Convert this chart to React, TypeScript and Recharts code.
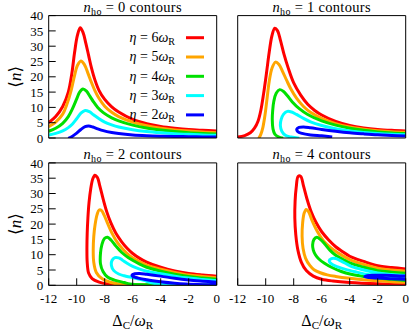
import React from 'react';
import { LineChart, Line, XAxis, YAxis, Legend } from 'recharts';

type Pt = [number, number];

const X_TICKS = [-12, -10, -8, -6, -4, -2, 0];
const Y_TICKS = [0, 5, 10, 15, 20, 25, 30, 35, 40];
const ETA_LABELS = [6, 5, 4, 3, 2];
const NHO_LABELS = [0, 1, 2, 4];
const SERIES_COLORS = ['#ff0000', '#ffa500', '#00e000', '#00ffff', '#0000ff'];

// ---- n_ho = 0 ----
const NHO0_ETA6: Pt[] = [[-12, 5.0], [-11.5, 7.0], [-11, 10.3], [-10.6, 15], [-10.35, 21], [-10.15, 28], [-9.95, 33.5], [-9.75, 36], [-9.55, 34.5], [-9.35, 31], [-9.15, 27], [-8.95, 23], [-8.7, 19], [-8.4, 15.5], [-8.0, 12.6], [-7.5, 10.2], [-7, 8.5], [-6, 6.1], [-5, 4.7], [-4, 3.8], [-3, 3.2], [-2, 2.75], [-1, 2.5], [0, 2.3]];
const NHO0_ETA5: Pt[] = [[-12, 3.7], [-11.5, 5.2], [-11, 7.8], [-10.7, 11], [-10.4, 15.5], [-10.15, 20.5], [-9.95, 23.7], [-9.7, 25.2], [-9.45, 24], [-9.2, 21.2], [-8.95, 18.2], [-8.7, 15.5], [-8.4, 12.9], [-8.0, 10.4], [-7.5, 8.4], [-7, 7.0], [-6, 5.2], [-5, 4.0], [-4, 3.2], [-3, 2.65], [-2, 2.25], [-1, 1.95], [0, 1.75]];
const NHO0_ETA4: Pt[] = [[-12, 2.2], [-11.5, 3.2], [-11, 4.8], [-10.6, 7], [-10.3, 9.6], [-10.0, 12.8], [-9.8, 14.9], [-9.55, 16], [-9.3, 15.3], [-9.05, 13.6], [-8.8, 11.8], [-8.5, 10], [-8.1, 8.3], [-7.5, 6.6], [-7, 5.6], [-6, 4.2], [-5, 3.25], [-4, 2.6], [-3, 2.1], [-2, 1.75], [-1, 1.5], [0, 1.3]];
const NHO0_ETA3: Pt[] = [[-12, 1.0], [-11.5, 1.5], [-11, 2.3], [-10.6, 3.4], [-10.3, 4.6], [-10.0, 6.3], [-9.7, 8.1], [-9.4, 9], [-9.1, 8.6], [-8.8, 7.6], [-8.4, 6.3], [-8.0, 5.2], [-7.5, 4.3], [-7, 3.6], [-6, 2.7], [-5, 2.1], [-4, 1.7], [-3, 1.4], [-2, 1.2], [-1, 1.0], [0, 0.9]];
const NHO0_ETA2: Pt[] = [[-10.6, -0.1], [-10.3, 0.6], [-10.0, 1.6], [-9.7, 2.8], [-9.4, 3.7], [-9.15, 3.9], [-8.85, 3.6], [-8.5, 3.0], [-8.1, 2.4], [-7.5, 1.8], [-7, 1.45], [-6, 1.0], [-5, 0.75], [-4, 0.6], [-3, 0.5], [-2, 0.42], [-1, 0.36], [0, 0.3]];

// ---- n_ho = 1 ----
const NHO1_ETA6: Pt[] = [[-12, 0.3], [-11.5, 0.8], [-11.1, 1.7], [-10.8, 3.2], [-10.55, 5.5], [-10.35, 9], [-10.15, 14.5], [-9.95, 21], [-9.75, 28], [-9.55, 33.5], [-9.35, 35.9], [-9.15, 35], [-8.95, 32], [-8.7, 27.5], [-8.4, 23], [-8.0, 18], [-7.5, 14], [-7.0, 11], [-6.5, 9], [-6, 7.5], [-5, 5.4], [-4, 4.1], [-3, 3.3], [-2, 2.8], [-1, 2.5], [0, 2.3]];
const NHO1_ETA5: Pt[] = [[-10.5, -0.1], [-10.35, 1.2], [-10.2, 3.5], [-10.05, 7.5], [-9.9, 13], [-9.75, 18.5], [-9.55, 22.8], [-9.3, 24.8], [-9.05, 24], [-8.8, 21.8], [-8.5, 18.8], [-8.2, 16], [-7.8, 13], [-7.3, 10.3], [-6.8, 8.4], [-6, 6.4], [-5, 4.7], [-4, 3.6], [-3, 2.9], [-2, 2.4], [-1, 2.05], [0, 1.85]];
const NHO1_ETA4: Pt[] = [[-8.75, -0.1], [-9.1, 0.4], [-9.35, 1.3], [-9.48, 3], [-9.53, 6], [-9.5, 9], [-9.42, 12], [-9.25, 14.6], [-9.0, 15.8], [-8.75, 15.3], [-8.45, 13.8], [-8.1, 11.8], [-7.6, 9.6], [-7, 7.7], [-6, 5.6], [-5, 4.2], [-4, 3.2], [-3, 2.5], [-2, 2.0], [-1, 1.65], [0, 1.45]];
const NHO1_ETA3: Pt[] = [[-7.6, -0.1], [-8.2, 0.3], [-8.6, 0.9], [-8.85, 2.2], [-8.95, 4], [-8.9, 6], [-8.72, 7.8], [-8.45, 8.7], [-8.15, 8.5], [-7.8, 7.7], [-7.3, 6.4], [-6.8, 5.3], [-6, 4.1], [-5, 3.0], [-4, 2.3], [-3, 1.8], [-2, 1.45], [-1, 1.2], [0, 1.05]];
const NHO1_ETA2: Pt[] = [[-5.25, 0.35], [-6.0, 0.7], [-6.8, 1.0], [-7.4, 1.5], [-7.72, 2.15], [-7.78, 2.9], [-7.62, 3.45], [-7.3, 3.6], [-6.8, 3.35], [-6, 2.8], [-5, 2.2], [-4, 1.7], [-3, 1.35], [-2, 1.05], [-1, 0.85], [0, 0.65]];

// ---- n_ho = 2 ----
const NHO2_ETA6: Pt[] = [[0, 0.05], [-3, 0.08], [-6, 0.12], [-7.2, 0.25], [-7.8, 0.45], [-8.4, 1.05], [-8.9, 2.2], [-9.15, 4], [-9.25, 7.5], [-9.27, 12], [-9.25, 17], [-9.2, 22], [-9.12, 27], [-9.0, 31.5], [-8.85, 34.8], [-8.7, 36], [-8.52, 35.2], [-8.35, 32.5], [-8.1, 28], [-7.85, 24], [-7.55, 20.3], [-7.2, 17], [-6.8, 14.3], [-6.4, 12.1], [-6, 10.4], [-5.5, 8.8], [-5, 7.6], [-4, 5.9], [-3, 4.7], [-2, 3.9], [-1, 3.4], [0, 3.0]];
const NHO2_ETA5: Pt[] = [[0, 0.05], [-4, 0.1], [-6, 0.2], [-6.9, 0.35], [-7.6, 1.0], [-8.2, 2.2], [-8.6, 4.2], [-8.78, 7.5], [-8.82, 11.5], [-8.78, 16], [-8.68, 20], [-8.55, 23], [-8.4, 24.6], [-8.22, 24.4], [-8.05, 23], [-7.8, 20.3], [-7.5, 17.2], [-7.1, 14.0], [-6.7, 11.8], [-6.2, 9.6], [-5.6, 7.9], [-5, 6.6], [-4, 5.3], [-3, 4.2], [-2, 3.35], [-1, 2.9], [0, 2.5]];
const NHO2_ETA4: Pt[] = [[0, 0.08], [-3, 0.12], [-5, 0.18], [-6.2, 0.45], [-6.6, 0.9], [-7.3, 1.7], [-7.8, 2.7], [-8.12, 4.5], [-8.3, 7], [-8.3, 10.5], [-8.2, 13.3], [-8.02, 15.3], [-7.8, 15.7], [-7.55, 14.8], [-7.2, 12.8], [-6.8, 10.8], [-6.3, 9.0], [-6, 8.2], [-5.5, 6.9], [-5, 5.9], [-4, 4.6], [-3, 3.6], [-2, 2.85], [-1, 2.4], [0, 2.0]];
const NHO2_ETA3: Pt[] = [[0, 0.1], [-2.5, 0.15], [-4.1, 0.35], [-4.8, 1.0], [-5.2, 1.6], [-6.1, 2.6], [-6.6, 3.1], [-7.0, 3.7], [-7.35, 4.8], [-7.52, 6.5], [-7.47, 8.2], [-7.27, 9.05], [-7.0, 8.95], [-6.75, 8.3], [-6.4, 7.2], [-6, 6.2], [-5.5, 5.3], [-5, 4.6], [-4, 3.8], [-3, 3.0], [-2, 2.35], [-1, 1.9], [0, 1.5]];
const NHO2_ETA2: Pt[] = [[0, 0.15], [-1, 0.22], [-2.2, 0.4], [-3, 0.65], [-4, 1.15], [-5, 1.8], [-5.6, 2.35], [-5.98, 2.9], [-6.05, 3.35], [-5.85, 3.75], [-5.5, 3.85], [-5, 3.6], [-4, 3.0], [-3, 2.3], [-2, 1.75], [-1, 1.35], [0, 1.0]];

// ---- n_ho = 4 ----
const NHO4_ETA6: Pt[] = [[0, 0.35], [-2, 0.5], [-4, 0.9], [-5.2, 1.4], [-6, 2.0], [-6.6, 3.0], [-7.1, 4.8], [-7.45, 7.5], [-7.7, 11.5], [-7.85, 16.5], [-7.92, 22], [-7.9, 27.5], [-7.82, 32], [-7.68, 35.6], [-7.5, 35.6], [-7.3, 32.5], [-7.05, 28.2], [-6.75, 24], [-6.4, 20.5], [-6.0, 17.5], [-5.5, 14.8], [-5.0, 12.6], [-4.5, 11.0], [-4, 9.5], [-3, 7.8], [-2, 6.4], [-1, 5.8], [0, 5.35]];
const NHO4_ETA5: Pt[] = [[0, 1.0], [-1, 1.2], [-2, 1.5], [-3, 1.85], [-4, 2.3], [-5, 2.9], [-5.6, 3.4], [-6.1, 4.1], [-6.55, 5.1], [-6.85, 6.5], [-7.15, 8.8], [-7.33, 12], [-7.4, 16], [-7.36, 20.5], [-7.25, 23.6], [-7.1, 24.8], [-6.93, 24.0], [-6.7, 21.3], [-6.3, 17.5], [-5.85, 14.4], [-5.36, 12.3], [-4.8, 10.5], [-4, 8.4], [-3, 6.8], [-2, 5.6], [-1, 5.0], [0, 4.6]];
const NHO4_ETA4: Pt[] = [[0, 1.6], [-1, 1.95], [-2, 2.35], [-3, 2.9], [-3.9, 3.6], [-4.6, 4.5], [-5.3, 5.9], [-5.8, 7.2], [-6.2, 8.6], [-6.45, 10], [-6.6, 11.5], [-6.65, 13.2], [-6.55, 15], [-6.35, 15.7], [-6.1, 15.0], [-5.8, 13.6], [-5.4, 11.4], [-5.0, 9.8], [-4.5, 8.5], [-4, 7.3], [-3, 5.9], [-2, 4.8], [-1, 4.3], [0, 3.9]];
const NHO4_ETA3: Pt[] = [[0, 2.2], [-1.5, 2.75], [-2.7, 3.5], [-3.5, 4.3], [-4.3, 5.2], [-4.9, 6.1], [-5.3, 7.0], [-5.47, 8.0], [-5.3, 8.75], [-5.0, 8.75], [-4.6, 7.9], [-4.2, 6.9], [-3.8, 6.0], [-3, 5.0], [-2, 4.0], [-1, 3.5], [0, 3.2]];
const NHO4_ETA2: Pt[] = [[0, 2.0], [-1, 2.15], [-2, 2.35], [-2.6, 2.55], [-2.92, 2.85], [-2.75, 3.15], [-2.3, 3.3], [-1.5, 3.25], [-0.7, 3.1], [0, 3.0]];

const PANEL_CURVES: Pt[][][] = [
  [NHO0_ETA6, NHO0_ETA5, NHO0_ETA4, NHO0_ETA3, NHO0_ETA2],
  [NHO1_ETA6, NHO1_ETA5, NHO1_ETA4, NHO1_ETA3, NHO1_ETA2],
  [NHO2_ETA6, NHO2_ETA5, NHO2_ETA4, NHO2_ETA3, NHO2_ETA2],
  [NHO4_ETA6, NHO4_ETA5, NHO4_ETA4, NHO4_ETA3, NHO4_ETA2],
];

const FONT = '"Liberation Serif", "DejaVu Serif", serif';
const PW = 168;
const PH = 122.4;

// centripetal Catmull-Rom curve factory (handles closed / folded contours)
const catmullRom = (context: any) => {
  let pts: number[][] = [];
  return {
    areaStart() {},
    areaEnd() {},
    lineStart() {
      pts = [];
    },
    point(x: number, y: number) {
      pts.push([+x, +y]);
    },
    lineEnd() {
      const n = pts.length;
      if (!n) return;
      context.moveTo(pts[0][0], pts[0][1]);
      for (let i = 0; i < n - 1; i++) {
        const p0 = pts[i - 1] || pts[i];
        const p1 = pts[i];
        const p2 = pts[i + 1];
        const p3 = pts[i + 2] || p2;
        const d01 = Math.hypot(p1[0] - p0[0], p1[1] - p0[1]);
        const d12 = Math.hypot(p2[0] - p1[0], p2[1] - p1[1]);
        const d23 = Math.hypot(p3[0] - p2[0], p3[1] - p2[1]);
        const a01 = Math.sqrt(d01);
        const a12 = Math.sqrt(d12);
        const a23 = Math.sqrt(d23);
        let c1x = p1[0], c1y = p1[1], c2x = p2[0], c2y = p2[1];
        if (a01 > 1e-9) {
          const a = 2 * d01 + 3 * a01 * a12 + d12;
          const m = 3 * a01 * (a01 + a12);
          c1x = (p1[0] * a - p0[0] * d12 + p2[0] * d01) / m;
          c1y = (p1[1] * a - p0[1] * d12 + p2[1] * d01) / m;
        }
        if (a23 > 1e-9) {
          const b = 2 * d23 + 3 * a23 * a12 + d12;
          const m = 3 * a23 * (a23 + a12);
          c2x = (p2[0] * b + p1[0] * d23 - p3[0] * d12) / m;
          c2y = (p2[1] * b + p1[1] * d23 - p3[1] * d12) / m;
        }
        context.bezierCurveTo(c1x, c1y, c2x, c2y, p2[0], p2[1]);
      }
    },
  };
};

const toPoints = (arr: Pt[]) => arr.map(([x, y]) => ({ x, y }));

const Title = ({ tx, ty, nho }: any) => (
  <text x={tx} y={ty} textAnchor="middle" fontFamily={FONT} fontSize={14.5} letterSpacing={0.3} fill="#000">
    <tspan fontStyle="italic">n</tspan>
    <tspan fontSize={10} dy={3}>ho</tspan>
    <tspan dy={-3}>{'\u00a0=\u00a0' + nho + ' contours'}</tspan>
  </text>
);

const XLabel = ({ tx, ty }: any) => (
  <text x={tx} y={ty} textAnchor="middle" fontFamily={FONT} fontSize={16} fill="#000">
    <tspan>Δ</tspan>
    <tspan fontSize={11} dy={3}>C</tspan>
    <tspan dy={-3}>/</tspan>
    <tspan fontStyle="italic">ω</tspan>
    <tspan fontSize={11} dy={3}>R</tspan>
  </text>
);

const YLabel = ({ tx, ty }: any) => (
  <text
    x={tx}
    y={ty}
    dy="0.35em"
    textAnchor="middle"
    fontFamily={FONT}
    fontSize={17}
    fill="#000"
    transform={`rotate(-90 ${tx} ${ty})`}
  >
    <tspan>⟨</tspan>
    <tspan fontStyle="italic">n</tspan>
    <tspan>⟩</tspan>
  </text>
);

const LegendBox = () => (
  <svg width={100} height={100} style={{ display: 'block', overflow: 'visible' }}>
    {ETA_LABELS.map((eta, i) => {
      const y = 12.7 + i * 19.3;
      return (
        <g key={eta}>
          <text x={65} y={y + 4.3} textAnchor="end" fontFamily={FONT} fontSize={14} fill="#000">
            <tspan fontStyle="italic">η</tspan>
            <tspan>{'\u00a0=\u00a0' + eta}</tspan>
            <tspan fontStyle="italic">ω</tspan>
            <tspan fontSize={10} dy={3}>R</tspan>
          </text>
          <line x1={76} x2={94} y1={y} y2={y} stroke={SERIES_COLORS[i]} strokeWidth={3} />
        </g>
      );
    })}
  </svg>
);

type PanelProps = {
  index: number;
  left: number;
  top: number;
  width: number;
  height: number;
  plotLeft: number;
  plotTop: number;
  showXLabels: boolean;
  showYLabels: boolean;
  showLegend: boolean;
};

const tickStyle = { fill: '#000', fontSize: 13, fontFamily: FONT };

function Panel(p: PanelProps) {
  const bottomH = p.showXLabels ? 40 : 1;
  const leftW = p.plotLeft - p.left;
  const localTop = p.plotTop - p.top;
  const margin = {
    top: localTop - 1,
    right: p.left + p.width - (p.plotLeft + PW) - 1,
    bottom: p.top + p.height - (p.plotTop + PH) - bottomH,
    left: 0,
  };
  const cx = leftW + PW / 2;
  const curves = PANEL_CURVES[p.index];
  return (
    <div style={{ position: 'absolute', left: p.left, top: p.top, width: p.width, height: p.height }}>
      <LineChart width={p.width} height={p.height} margin={margin}>
        <XAxis
          xAxisId="b"
          type="number"
          dataKey="x"
          domain={[-12, 0]}
          ticks={X_TICKS}
          allowDataOverflow
          orientation="bottom"
          height={bottomH}
          tickSize={-7}
          tickMargin={15}
          interval={0}
          stroke="#000"
          tick={p.showXLabels ? tickStyle : false}
          label={p.showXLabels ? <XLabel tx={cx} ty={localTop + PH + 40.4} /> : undefined}
        />
        <XAxis
          xAxisId="t"
          type="number"
          dataKey="x"
          domain={[-12, 0]}
          ticks={X_TICKS}
          allowDataOverflow
          orientation="top"
          height={1}
          tickSize={-7}
          interval={0}
          stroke="#000"
          tick={false}
          label={<Title tx={cx} ty={localTop - 4} nho={NHO_LABELS[p.index]} />}
        />
        <YAxis
          yAxisId="l"
          type="number"
          dataKey="y"
          domain={[0, 40]}
          ticks={Y_TICKS}
          allowDataOverflow
          width={leftW}
          tickSize={-7}
          tickMargin={12.4}
          interval={0}
          stroke="#000"
          tick={p.showYLabels ? tickStyle : false}
          label={p.showYLabels ? <YLabel tx={15} ty={localTop + PH / 2} /> : undefined}
        />
        <YAxis
          yAxisId="r"
          type="number"
          dataKey="y"
          domain={[0, 40]}
          ticks={Y_TICKS}
          allowDataOverflow
          orientation="right"
          width={1}
          tickSize={-7}
          interval={0}
          stroke="#000"
          tick={false}
        />
        {curves.map((c, i) => (
          <Line
            key={i}
            xAxisId="b"
            yAxisId="l"
            data={toPoints(c)}
            dataKey="y"
            type={catmullRom as any}
            stroke={SERIES_COLORS[i]}
            strokeWidth={3}
            dot={false}
            activeDot={false}
            isAnimationActive={false}
            name={`eta=${ETA_LABELS[i]}`}
          />
        ))}
        {p.showLegend && (
          <Legend
            layout="vertical"
            align="center"
            verticalAlign="middle"
            wrapperStyle={{ left: 110, top: 25, width: 100, height: 100 }}
            content={() => <LegendBox />}
          />
        )}
      </LineChart>
    </div>
  );
}

export default function App() {
  return (
    <div style={{ position: 'absolute', left: 0, top: 0, width: 415, height: 331, background: '#fff' }}>
      <Panel index={0} left={0} top={0} width={228} height={145} plotLeft={48.7} plotTop={15.6} showXLabels={false} showYLabels showLegend />
      <Panel index={1} left={226} top={0} width={189} height={145} plotLeft={237.7} plotTop={15.6} showXLabels={false} showYLabels={false} showLegend={false} />
      <Panel index={2} left={0} top={145} width={228} height={186} plotLeft={48.7} plotTop={162.9} showXLabels showYLabels showLegend={false} />
      <Panel index={3} left={226} top={145} width={189} height={186} plotLeft={237.7} plotTop={162.9} showXLabels showYLabels={false} showLegend={false} />
    </div>
  );
}
